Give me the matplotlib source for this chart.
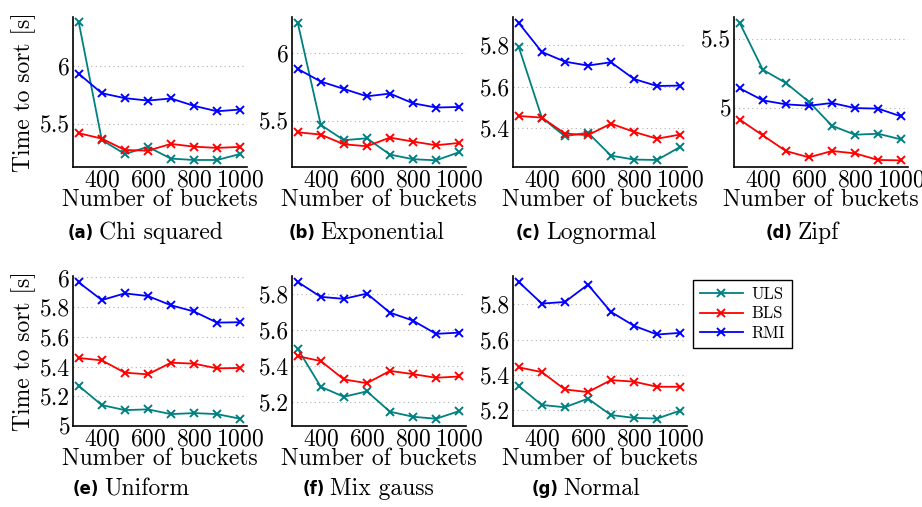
import matplotlib.pyplot as plt
from matplotlib.ticker import FuncFormatter

plt.rcParams["font.family"] = ["cmr10", "DejaVu Serif"]
plt.rcParams["axes.formatter.use_mathtext"] = True
plt.rcParams["mathtext.fontset"] = "cm"

buckets = [300, 400, 500, 600, 700, 800, 900, 1000]

# per distribution: ULS, BLS, RMI sort times in seconds
chi_uls = [6.384, 5.36, 5.238, 5.30, 5.198, 5.186, 5.186, 5.238]
chi_bls = [5.419, 5.372, 5.273, 5.267, 5.326, 5.302, 5.291, 5.30]
chi_rmi = [5.936, 5.767, 5.724, 5.703, 5.721, 5.657, 5.61, 5.625]

exp_uls = [6.217, 5.471, 5.359, 5.373, 5.254, 5.22, 5.212, 5.271]
exp_bls = [5.417, 5.40, 5.329, 5.315, 5.378, 5.349, 5.322, 5.339]
exp_rmi = [5.880, 5.788, 5.734, 5.680, 5.700, 5.629, 5.598, 5.602]

logn_uls = [5.792, 5.45, 5.36, 5.377, 5.266, 5.247, 5.245, 5.308]
logn_bls = [5.458, 5.45, 5.373, 5.365, 5.421, 5.381, 5.348, 5.368]
logn_rmi = [5.908, 5.768, 5.721, 5.702, 5.718, 5.637, 5.603, 5.605]

zipf_uls = [5.618, 5.28, 5.184, 5.048, 4.874, 4.809, 4.816, 4.775]
zipf_bls = [4.918, 4.804, 4.691, 4.645, 4.691, 4.674, 4.626, 4.623]
zipf_rmi = [5.145, 5.058, 5.029, 5.019, 5.039, 5.002, 4.998, 4.942]

unif_uls = [5.27, 5.141, 5.107, 5.112, 5.08, 5.087, 5.08, 5.049]
unif_bls = [5.458, 5.442, 5.359, 5.348, 5.426, 5.42, 5.388, 5.391]
unif_rmi = [5.967, 5.848, 5.893, 5.875, 5.813, 5.771, 5.696, 5.699]

mix_uls = [5.495, 5.286, 5.231, 5.261, 5.149, 5.121, 5.11, 5.152]
mix_bls = [5.455, 5.428, 5.327, 5.306, 5.374, 5.356, 5.336, 5.343]
mix_rmi = [5.864, 5.782, 5.771, 5.80, 5.695, 5.651, 5.578, 5.585]

norm_uls = [5.337, 5.23, 5.217, 5.266, 5.173, 5.157, 5.153, 5.198]
norm_bls = [5.443, 5.416, 5.318, 5.303, 5.371, 5.362, 5.333, 5.333]
norm_rmi = [5.926, 5.804, 5.813, 5.911, 5.757, 5.678, 5.629, 5.638]

captions = ["(a)", "(b)", "(c)", "(d)", "(e)", "(f)", "(g)"]
names = ["Chi squared", "Exponential", "Lognormal", "Zipf",
         "Uniform", "Mix gauss", "Normal"]
series = [
    (chi_uls, chi_bls, chi_rmi),
    (exp_uls, exp_bls, exp_rmi),
    (logn_uls, logn_bls, logn_rmi),
    (zipf_uls, zipf_bls, zipf_rmi),
    (unif_uls, unif_bls, unif_rmi),
    (mix_uls, mix_bls, mix_rmi),
    (norm_uls, norm_bls, norm_rmi),
]
yticks = [
    [5.5, 6], [5.5, 6], [5.4, 5.6, 5.8], [5, 5.5],
    [5, 5.2, 5.4, 5.6, 5.8, 6], [5.2, 5.4, 5.6, 5.8], [5.2, 5.4, 5.6, 5.8],
]
ylims = [
    (5.125, 6.43), (5.163, 6.26), (5.211, 5.937), (4.575, 5.662),
    (5.0, 6.01), (5.07, 5.897), (5.111, 5.96),
]
labels = ["ULS", "BLS", "RMI"]
colors = ["#008080", "#ff0000", "#0000ff"]

W, H = 922, 507
fig = plt.figure(figsize=(W / 100, H / 100), dpi=100)

# axes boxes in pixels: left, top (all 174 x 150)
boxes = [
    (73, 17), (292, 17), (513, 17), (734, 17),
    (73, 276), (292, 276), (513, 276),
]
cap_x = [145, 366, 586, 802, 131, 368, 586]
cap_y = [233, 233, 233, 233, 489, 489, 489]

fmt = FuncFormatter(lambda v, p: "%g" % v)
renderer = fig.canvas.get_renderer()

for i, (l, t) in enumerate(boxes):
    ax = fig.add_axes([l / W, 1 - (t + 150) / H, 174 / W, 150 / H])
    for lab, col, ys in zip(labels, colors, series[i]):
        ax.plot(buckets, ys, color=col, marker="x", markersize=6,
                markeredgewidth=1.4, linewidth=1.3, label=lab)
    ax.set_xlim(275, 1030)
    ax.set_ylim(*ylims[i])
    ax.set_xticks([400, 600, 800, 1000])
    ax.set_yticks(yticks[i])
    ax.yaxis.set_major_formatter(fmt)
    ax.grid(axis="y", linestyle=(0, (1, 3)), color="#b0b0b0", linewidth=0.8)
    ax.spines[["top", "right"]].set_visible(False)
    ax.spines[["left", "bottom"]].set_linewidth(1.2)
    ax.tick_params(length=0, labelsize=17, pad=2)
    ax.set_xlabel("Number of buckets", fontsize=17, labelpad=-2)
    if i in (0, 4):
        ax.set_ylabel("Time to sort [s]", fontsize=17, labelpad=3)

    # subcaption: bold tag + serif name, centred as a pair
    tag = fig.text(0, 1 - cap_y[i] / H, captions[i], ha="left", va="center",
                   fontsize=12, fontweight="bold", family="DejaVu Sans")
    name = fig.text(0, 1 - cap_y[i] / H, names[i], ha="left", va="center",
                    fontsize=17)
    tw = tag.get_window_extent(renderer).width
    nw = name.get_window_extent(renderer).width
    gap = 5
    x0 = cap_x[i] - (tw + gap + nw) / 2
    tag.set_x(x0 / W)
    name.set_x((x0 + tw + gap) / W)
    if i == 0:
        handles, hl = ax.get_legend_handles_labels()

leg = fig.legend(handles, hl, loc="upper left",
                 bbox_to_anchor=(693 / W, 1 - 280 / H), borderaxespad=0,
                 fontsize=12, frameon=True, fancybox=False,
                 edgecolor="black", framealpha=1, borderpad=0.4,
                 labelspacing=0.25, handlelength=2.6, handletextpad=0.5)
leg.get_frame().set_linewidth(1.0)

fig.savefig("out.png", dpi=100)
